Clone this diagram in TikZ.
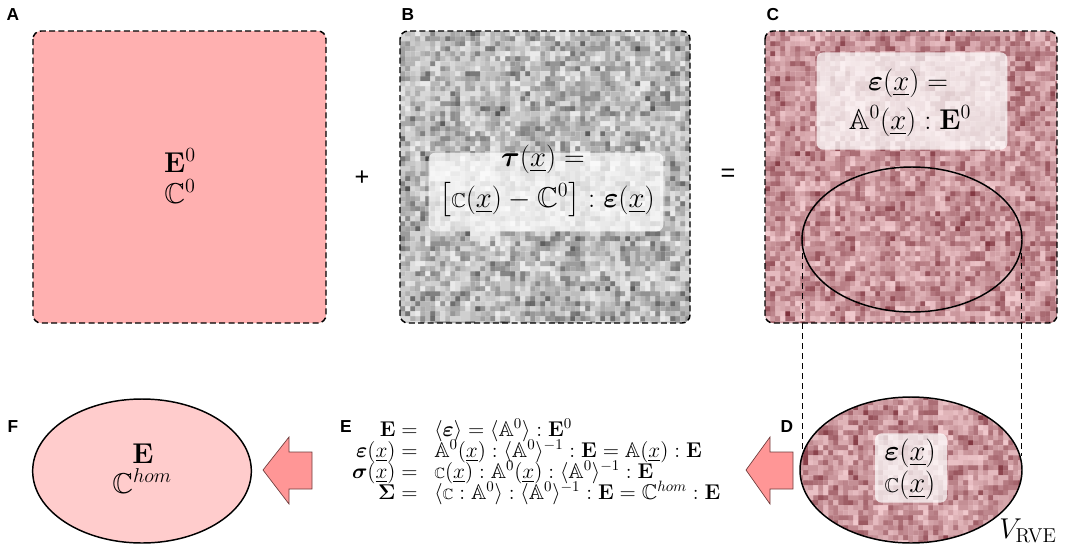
\RequirePackage{fix-cm}
\documentclass[tikz,border=0pt]{standalone}
\usepackage{amsmath,amssymb,bm}
\usepackage[no-math]{fontspec}
\newfontfamily\labfont{Liberation Sans}
\usetikzlibrary{shapes.geometric}
\definecolor{boxA}{RGB}{255,176,176}
\definecolor{ellF}{RGB}{255,204,204}
\definecolor{arrowF}{RGB}{255,150,150}
\definecolor{arrowB}{RGB}{110,60,60}
\definecolor{pinkL}{RGB}{246,208,212}
\definecolor{pinkD}{RGB}{120,42,52}
\definecolor{greyL}{RGB}{244,244,244}
\definecolor{greyD}{RGB}{50,50,50}
\newcommand\smallc{\mathord{\scalebox{0.7}{$\mathbb{C}$}}}
\newcommand\ux{\underline{x}}
% build 10 bucket paths of random cells
\newcommand\buildnoise[6]{%
  \foreach \k in {0,...,9}{\expandafter\gdef\csname cellpath\k\endcsname{}}%
  \pgfmathsetmacro\cs{#5+0.4}%
  \foreach \i in {0,...,#3}{\foreach \j in {0,...,#4}{%
    \pgfmathtruncatemacro\lev{min(9,floor(10*pow(rnd,#6)))}%
    \pgfmathtruncatemacro\cx{#1+#5*\i}%
    \pgfmathtruncatemacro\cy{#2+#5*\j}%
    \expandafter\xdef\csname cellpath\lev\endcsname{\csname cellpath\lev\endcsname(\cx,\cy)rectangle++(\cs,\cs)}%
  }}%
}
\newcommand\drawnoise[3]{%
  \foreach \k in {0,...,9}{%
    \pgfmathtruncatemacro\pp{5+10*\k}%
    \edef\tmp{\noexpand\fill[#2!\pp!#1, opacity=#3] \csname cellpath\k\endcsname;}\tmp
  }%
  \foreach \k in {0,...,9}{\expandafter\gdef\csname cellpath\k\endcsname{}}%
}
\tikzset{
  panellabel/.style={font=\labfont\bfseries\fontsize{13}{15}\selectfont, inner sep=0pt},
  opsign/.style={font=\labfont\fontsize{19}{21}\selectfont, inner sep=0pt},
  bigmath/.style={font=\fontsize{21.5}{26}\selectfont, inner sep=0pt},
  eqmath/.style={font=\fontsize{16}{19}\selectfont, inner sep=0pt},
  dashbox/.style={draw=black, line width=1.1pt, dash pattern=on 4.5pt off 2.5pt, rounded corners=6pt},
  glass/.style={fill=white, fill opacity=0.72, rounded corners=5pt, draw=none},
  blockarrow/.style={fill=arrowF, draw=arrowB, line width=0.5pt, line join=miter},
  ellborder/.style={draw=black, line width=1.1pt}
}
\begin{document}
\begin{tikzpicture}[x=0.75pt,y=-0.75pt]
\useasboundingbox (0,0) rectangle (1065,551);
\pgfmathsetseed{7}
% ---------- Panel A
\fill[boxA, rounded corners=6pt] (33,31) rectangle (326,323);
\draw[dashbox] (33,31) rectangle (326,323);
\node[bigmath, anchor=base] (tA1) at (180,172) {$\mathbf{E}^0$};
\node[bigmath, anchor=base] (tA2) at (180,203) {$\mathbb{C}^0$};
% ---------- Panel B (grey noise)
\begin{scope}
\clip[rounded corners=6pt] (400,31) rectangle (690,323);
\buildnoise{400}{31}{29}{29}{10}{0.45}\drawnoise{greyD}{greyL}{1}
\buildnoise{400}{31}{58}{58}{5}{0.45}\drawnoise{greyD}{greyL}{0.6}
\end{scope}
\draw[dashbox] (400,31) rectangle (690,323);
\node[glass, minimum width=176pt, minimum height=59pt] (gB) at (546,192) {};
\node[bigmath] (tB1) at (543,159) {$\bm{\tau}(\ux)=$};
\node[bigmath] (tB2) at (547,200) {$\left[\smallc(\ux)-\mathbb{C}^0\right]:\bm{\varepsilon}(\ux)$};
% ---------- Panel C (pink noise)
\begin{scope}
\clip[rounded corners=6pt] (765,31) rectangle (1057,323);
\buildnoise{765}{31}{29}{29}{10}{0.6}\drawnoise{pinkD}{pinkL}{1}
\buildnoise{765}{31}{58}{58}{5}{0.6}\drawnoise{pinkD}{pinkL}{0.6}
\end{scope}
\draw[dashbox] (765,31) rectangle (1057,323);
\node[glass, minimum width=143pt, minimum height=73pt] (gC) at (912,101) {};
\node[bigmath] (tC1) at (908,83) {$\bm{\varepsilon}(\ux)=$};
\node[bigmath] (tC2) at (910,121) {$\mathbb{A}^0(\ux):\mathbf{E}^0$};
\draw[ellborder] (912,239.5) ellipse [x radius=110, y radius=72.5];
% ---------- Panel D (pink noise ellipse)
\begin{scope}
\clip (911,470) ellipse [x radius=111, y radius=73];
\buildnoise{798}{395}{22}{15}{10}{0.6}\drawnoise{pinkD}{pinkL}{1}
\buildnoise{798}{395}{45}{30}{5}{0.6}\drawnoise{pinkD}{pinkL}{0.6}
\end{scope}
\draw[ellborder] (911,470) ellipse [x radius=111, y radius=73];
\node[glass, minimum width=54pt, minimum height=52pt] (gD) at (911,468) {};
\node[bigmath] (tD1) at (910,453) {$\bm{\varepsilon}(\ux)$};
\node[bigmath] (tD2) at (910,485) {$\smallc(\ux)$};
\node[bigmath, anchor=base west] (vrve) at (999,538) {$V_{\mathrm{RVE}}$};
% dashed projection lines
\coordinate (pL1) at (802,253);
\coordinate (pL2) at (802,456);
\coordinate (pR1) at (1021,253);
\coordinate (pR2) at (1021,456);
\draw[line width=0.6pt, dash pattern=on 4.5pt off 3pt] (pL1) -- (pL2);
\draw[line width=0.6pt, dash pattern=on 4.5pt off 3pt] (pR1) -- (pR2);
% ---------- Panel F
\node[ellipse, ellborder, fill=ellF, minimum width=164pt, minimum height=108pt, inner sep=0pt] (ellF) at (142,471) {};
\node[bigmath, anchor=base] (tF1) at (143,463) {$\mathbf{E}$};
\node[bigmath, anchor=base] (tF2) at (142,493) {$\mathbb{C}^{hom}$};
% ---------- Panel E equations
\node[eqmath, anchor=base east] (eL1) at (418,436) {$\mathbf{E}=$};
\node[eqmath, anchor=base east] (eL2) at (418,457) {$\bm{\varepsilon}(\ux)=$};
\node[eqmath, anchor=base east] (eL3) at (418,478) {$\bm{\sigma}(\ux)=$};
\node[eqmath, anchor=base east] (eL4) at (418,499) {$\mathbf{\Sigma}=$};
\node[eqmath, anchor=base west] (eR1) at (434,436) {$\langle\bm{\varepsilon}\rangle=\langle\mathbb{A}^0\rangle:\mathbf{E}^0$};
\node[eqmath, anchor=base west] (eR2) at (434,457) {$\mathbb{A}^0(\ux):\langle\mathbb{A}^0\rangle^{-1}:\mathbf{E}=\mathbb{A}(\ux):\mathbf{E}$};
\node[eqmath, anchor=base west] (eR3) at (434,478) {$\smallc(\ux):\mathbb{A}^0(\ux):\langle\mathbb{A}^0\rangle^{-1}:\mathbf{E}$};
\node[eqmath, anchor=base west] (eR4) at (434,499) {$\langle\smallc:\mathbb{A}^0\rangle:\langle\mathbb{A}^0\rangle^{-1}:\mathbf{E}=\mathbb{C}^{hom}:\mathbf{E}$};
% ---------- block arrows
\coordinate (aF) at (263,470);
\draw[blockarrow] (aF) -- ++(26,-33) -- ++(0,15) -- ++(23,0) -- ++(0,37) -- ++(-23,0) -- ++(0,15) -- cycle;
\coordinate (aD) at (746,470);
\draw[blockarrow] (aD) -- ++(24,-33) -- ++(0,15) -- ++(23,0) -- ++(0,37) -- ++(-23,0) -- ++(0,15) -- cycle;
% ---------- signs and labels
\node[opsign] (plus) at (362,178) {+};
\node[opsign] (eq) at (728,175) {=};
\node[panellabel] (lA) at (13,15) {A};
\node[panellabel] (lB) at (408,15) {B};
\node[panellabel] (lC) at (773,15) {C};
\node[panellabel] (lD) at (787,427) {D};
\node[panellabel] (lE) at (346,427) {E};
\node[panellabel] (lF) at (13,427) {F};
\end{tikzpicture}
\end{document}
